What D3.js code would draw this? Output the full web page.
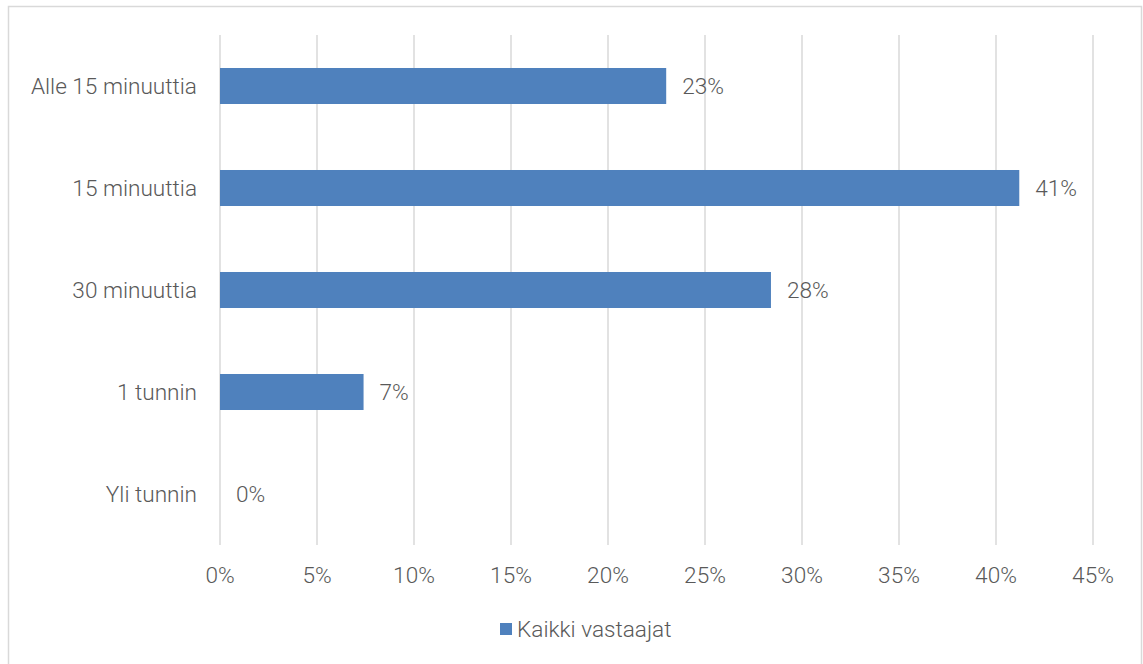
<!DOCTYPE html>
<html>
<head>
<meta charset="utf-8">
<script src="https://cdn.jsdelivr.net/npm/d3@7"></script>
<style>
  html, body { margin: 0; padding: 0; background: #fff; }
  svg { display: block; }
  text { font-family: Roboto, "Open Sans", sans-serif; font-weight: 300; fill: #595959; }
</style>
</head>
<body>
<svg id="chart" width="1143" height="664"></svg>
<script>
// Vastausvaihtoehdot ja osuudet (kaikki vastaajat)
const categories = ["Alle 15 minuuttia", "15 minuuttia", "30 minuuttia", "1 tunnin", "Yli tunnin"];
const shares = [0.230, 0.412, 0.284, 0.074, 0.0];
const xTicks = [0, 0.05, 0.10, 0.15, 0.20, 0.25, 0.30, 0.35, 0.40, 0.45];
const seriesName = "Kaikki vastaajat";

const barColor = "#4f81bd";
const gridColor = "#d9d9d9";
const fontSize = 22.6;
const pct = d3.format(".0%");

const svg = d3.select("#chart");

// Chart frame
svg.append("rect")
  .attr("x", 8.5).attr("y", 6.5)
  .attr("width", 1133).attr("height", 680)
  .attr("fill", "none")
  .attr("stroke", gridColor)
  .attr("stroke-width", 1.5);

const x = d3.scaleLinear().domain([0, 0.45]).range([220, 1093]);
const y = d3.scaleBand()
  .domain(categories)
  .range([35, 545])
  .paddingInner(0.647)
  .paddingOuter(0.3235);

// Vertical gridlines
svg.append("g")
  .selectAll("line")
  .data(xTicks)
  .join("line")
  .attr("x1", d => x(d)).attr("x2", d => x(d))
  .attr("y1", 35).attr("y2", 545)
  .attr("stroke", gridColor)
  .attr("stroke-width", 1.5);

// X-axis tick labels
svg.append("g")
  .selectAll("text")
  .data(xTicks)
  .join("text")
  .attr("x", d => x(d))
  .attr("y", 583)
  .attr("text-anchor", "middle")
  .attr("font-size", fontSize)
  .text(d => pct(d));

// Category labels
svg.append("g")
  .selectAll("text")
  .data(categories)
  .join("text")
  .attr("x", 197)
  .attr("y", d => y(d) + y.bandwidth() / 2)
  .attr("dy", "0.36em")
  .attr("text-anchor", "end")
  .attr("font-size", fontSize)
  .text(d => d);

const rows = categories.map((c, i) => ({ cat: c, v: shares[i] }));

// Bars
svg.append("g")
  .selectAll("rect")
  .data(rows)
  .join("rect")
  .attr("x", x(0))
  .attr("y", d => y(d.cat))
  .attr("width", d => x(d.v) - x(0))
  .attr("height", y.bandwidth())
  .attr("fill", barColor);

// Value labels
svg.append("g")
  .selectAll("text")
  .data(rows)
  .join("text")
  .attr("x", d => x(d.v) + 16)
  .attr("y", d => y(d.cat) + y.bandwidth() / 2)
  .attr("dy", "0.36em")
  .attr("font-size", fontSize)
  .text(d => pct(d.v));

// Legend
const legend = svg.append("g").attr("transform", "translate(500,623)");
legend.append("rect")
  .attr("width", 12).attr("height", 12)
  .attr("fill", barColor);
legend.append("text")
  .attr("x", 17).attr("y", 6)
  .attr("dy", "0.36em")
  .attr("font-size", fontSize)
  .text(seriesName);
</script>
</body>
</html>
